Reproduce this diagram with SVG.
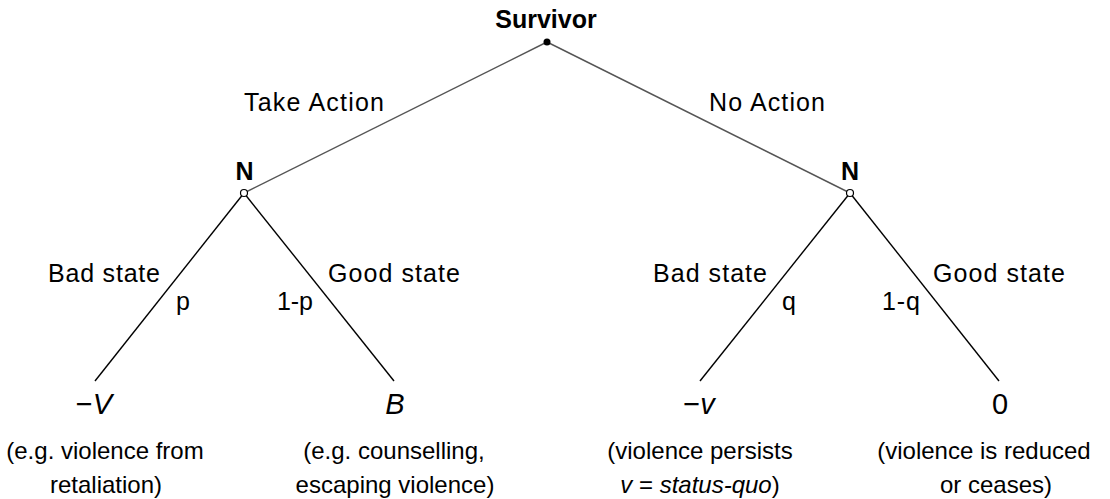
<svg xmlns="http://www.w3.org/2000/svg" width="1110" height="499" viewBox="0 0 1110 499">
<style>
text{font-family:"Liberation Sans",Arial,sans-serif;fill:#000}
.lbl{font-size:25px}
.cap{font-size:24px}
.b{font-size:25px;font-weight:bold}
.m{font-size:29px}
.it{font-style:italic}
.c{text-anchor:middle}
.top{stroke:#555;stroke-width:1.4;fill:none}
.low{stroke:#000;stroke-width:1.4;fill:none}
</style>
<rect width="1110" height="499" fill="#fff"/>
<g id="connectors">
<line class="top" x1="547" y1="42" x2="244" y2="193"/>
<line class="top" x1="547" y1="42" x2="850" y2="193"/>
<line class="low" x1="244" y1="193" x2="95" y2="381"/>
<line class="low" x1="244" y1="193" x2="394" y2="381"/>
<line class="low" x1="850" y1="193" x2="700" y2="381"/>
<line class="low" x1="850" y1="193" x2="999" y2="381"/>
<text class="lbl c" x="314" y="111" textLength="140" lengthAdjust="spacing">Take Action</text>
<text class="lbl c" x="767" y="111" textLength="116" lengthAdjust="spacing">No Action</text>
<text class="lbl c" x="104" y="282" textLength="112" lengthAdjust="spacing">Bad state</text>
<text class="lbl c" x="183" y="310">p</text>
<text class="lbl c" x="295" y="310" textLength="36" lengthAdjust="spacing">1-p</text>
<text class="lbl c" x="394" y="282" textLength="132" lengthAdjust="spacing">Good state</text>
<text class="lbl c" x="710" y="282" textLength="114" lengthAdjust="spacing">Bad state</text>
<text class="lbl c" x="789" y="310">q</text>
<text class="lbl c" x="901" y="310" textLength="38" lengthAdjust="spacing">1-q</text>
<text class="lbl c" x="999" y="282" textLength="132" lengthAdjust="spacing">Good state</text>
</g>
<g id="root">
<circle cx="547" cy="42" r="3.5" fill="#000"/>
<text class="b c" x="546" y="28">Survivor</text>
</g>
<g id="chanceLeft">
<circle cx="244" cy="193" r="3.5" fill="#fff" stroke="#000" stroke-width="1.2"/>
<text class="b c" x="244.5" y="180">N</text>
</g>
<g id="chanceRight">
<circle cx="850" cy="193" r="3.5" fill="#fff" stroke="#000" stroke-width="1.2"/>
<text class="b c" x="850" y="180">N</text>
</g>
<g id="leafBadAction">
<text class="m c" x="94" y="414">−<tspan class="it">V</tspan></text>
<text class="cap c" x="105" y="459">(e.g. violence from</text>
<text class="cap c" x="106" y="493">retaliation)</text>
</g>
<g id="leafGoodAction">
<text class="m c it" x="395" y="414">B</text>
<text class="cap c" x="394" y="459">(e.g. counselling,</text>
<text class="cap c" x="395" y="493">escaping violence)</text>
</g>
<g id="leafBadNoAction">
<text class="m c" x="699" y="414">−<tspan class="it">v</tspan></text>
<text class="cap c" x="700" y="459">(violence persists</text>
<text class="cap c" x="700" y="493"><tspan class="it">v</tspan> = <tspan class="it">status-quo</tspan>)</text>
</g>
<g id="leafGoodNoAction">
<text class="m c" x="1000" y="414">0</text>
<text class="cap c" x="984" y="459">(violence is reduced</text>
<text class="cap c" x="996" y="493">or ceases)</text>
</g>
</svg>
